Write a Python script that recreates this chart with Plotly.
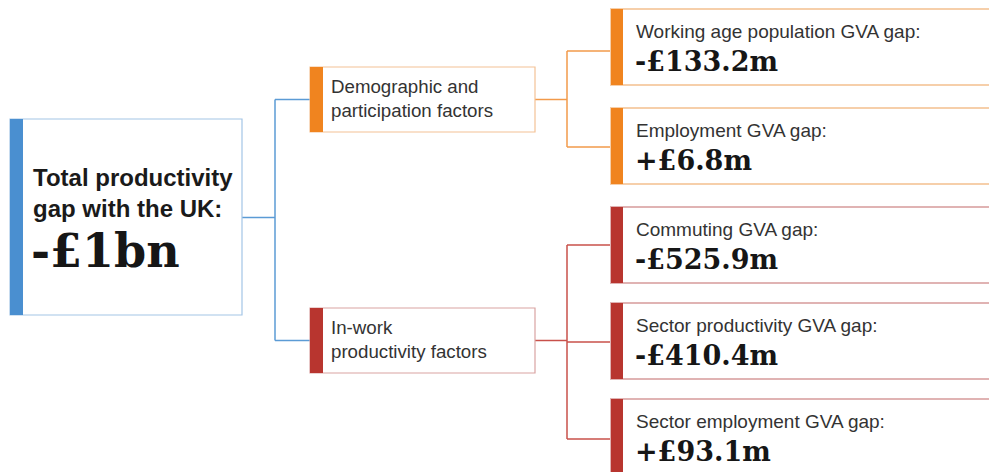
import plotly.graph_objects as go

# ---- data ----
root_label = "Total productivity<br>gap with the UK:"
root_value = "-£1bn"

group_labels = ["Demographic and<br>participation factors", "In-work<br>productivity factors"]

leaf_labels = [
    "Working age population GVA gap:",
    "Employment GVA gap:",
    "Commuting GVA gap:",
    "Sector productivity GVA gap:",
    "Sector employment GVA gap:",
]
leaf_values = ["-£133.2m", "+£6.8m", "-£525.9m", "-£410.4m", "+£93.1m"]
leaf_group = [0, 0, 1, 1, 1]

# ---- style / layout ----
W, H = 989, 472
BLUE_BAR, BLUE_LINE, BLUE_BORDER = "#4a8fd0", "#5b9bd5", "#a3c5e6"
GROUP_BAR = ["#f0841f", "#b8352f"]
GROUP_LINE = ["#f29a4a", "#c8504a"]
GROUP_BORDER = ["#f4c296", "#d9a3a2"]
LEAF_BORDER = ["#f6cfaa", "#e0b3b3"]
SANS = "Liberation Sans, Arial, Helvetica, sans-serif"
SLAB = "DejaVu Serif, serif"

root_box = dict(x0=10, x1=242, y0=119, y1=315, bar=13)
group_boxes = [dict(x0=310, x1=535, y0=67, y1=132), dict(x0=310, x1=535, y0=308, y1=373)]
group_bar = 13
leaf_tops = [9, 108, 207, 303, 399]
leaf_h = 76
leaf_x0, leaf_x1, leaf_bar = 611, 1000, 12
leaf_conn_y = [51, 147, 245, 342, 439]
trunk_x = 275
branch_x = [567, 567]

shapes = []

def rect(x0, y0, x1, y1, line=None, fill=None, lw=1.2):
    shapes.append(dict(type="rect", xref="x", yref="y", x0=x0, y0=y0, x1=x1, y1=y1,
                       line=dict(color=line if line else "rgba(0,0,0,0)", width=lw if line else 0),
                       fillcolor=fill if fill else "rgba(0,0,0,0)", layer="above"))

def seg(x0, y0, x1, y1, color, lw=1.5):
    shapes.append(dict(type="line", xref="x", yref="y", x0=x0, y0=y0, x1=x1, y1=y1,
                       line=dict(color=color, width=lw), layer="above"))

# connectors (drawn first)
root_mid = (root_box["y0"] + root_box["y1"]) / 2 + 0.5
group_mids = [(b["y0"] + b["y1"]) / 2 for b in group_boxes]
seg(root_box["x1"], root_mid, trunk_x, root_mid, BLUE_LINE)
seg(trunk_x, group_mids[0], trunk_x, group_mids[1], BLUE_LINE)
for gm in group_mids:
    seg(trunk_x, gm, group_boxes[0]["x0"], gm, BLUE_LINE)
for g in range(2):
    ys = [leaf_conn_y[i] for i in range(5) if leaf_group[i] == g]
    gb = group_boxes[g]
    seg(gb["x1"], group_mids[g], branch_x[g], group_mids[g], GROUP_LINE[g])
    seg(branch_x[g], min(ys), branch_x[g], max(ys), GROUP_LINE[g])
    for y in ys:
        seg(branch_x[g], y, leaf_x0, y, GROUP_LINE[g])

# root box
rect(root_box["x0"], root_box["y0"], root_box["x1"], root_box["y1"], line=BLUE_BORDER, fill="white")
rect(root_box["x0"], root_box["y0"], root_box["x0"] + root_box["bar"], root_box["y1"], fill=BLUE_BAR)

# group boxes
for g, b in enumerate(group_boxes):
    rect(b["x0"], b["y0"], b["x1"], b["y1"], line=GROUP_BORDER[g], fill="white")
    rect(b["x0"], b["y0"], b["x0"] + group_bar, b["y1"], fill=GROUP_BAR[g])

# leaf boxes
for i, t in enumerate(leaf_tops):
    g = leaf_group[i]
    rect(leaf_x0, t, leaf_x1, t + leaf_h, line=LEAF_BORDER[g], fill="white", lw=2)
    rect(leaf_x0, t, leaf_x0 + leaf_bar, t + leaf_h, fill=GROUP_BAR[g])

annotations = []

def text(x, y, s, size, family, color, bold=False):
    annotations.append(dict(x=x, y=y, xref="x", yref="y", text=f"<b>{s}</b>" if bold else s,
                            showarrow=False, xanchor="left", yanchor="middle", align="left",
                            font=dict(size=size, family=family, color=color)))

text(31, 193, root_label, 24, SANS, "#1a1a1a", bold=True)
text(29, 251, root_value, 46, SLAB, "#161616", bold=True)
for g, b in enumerate(group_boxes):
    text(329, b["y0"] + 31, group_labels[g], 18.7, SANS, "#333333")
for i, t in enumerate(leaf_tops):
    text(634, t + 22, leaf_labels[i], 19, SANS, "#333333")
    text(633, t + 52, leaf_values[i], 27, SLAB, "#161616", bold=True)

fig = go.Figure()
fig.update_layout(
    width=W, height=H, margin=dict(l=0, r=0, t=0, b=0),
    paper_bgcolor="white", plot_bgcolor="white",
    xaxis=dict(range=[0, W], visible=False, fixedrange=True),
    yaxis=dict(range=[H, 0], visible=False, fixedrange=True),
    shapes=shapes, annotations=annotations, showlegend=False,
)
fig.write_html(
    "out.html",
    config={"displayModeBar": False},
    post_script="document.body.style.margin='0';document.body.style.overflow='hidden';",
)
